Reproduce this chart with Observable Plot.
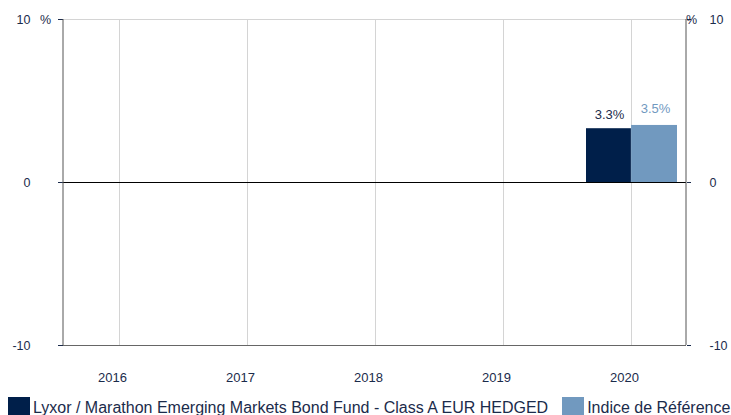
<!DOCTYPE html>
<html><head><meta charset="utf-8">
<script src="https://cdn.jsdelivr.net/npm/d3@7"></script>
<script src="https://cdn.jsdelivr.net/npm/@observablehq/plot@0.6"></script>
<style>
body{margin:0;background:#fff;font-family:"Liberation Sans",Arial,sans-serif;}
#legend{display:flex;align-items:flex-start;height:23px;overflow:hidden;margin-top:5px;color:#1b2b4b;font-size:16px;white-space:nowrap;width:731px;}
.item{display:flex;align-items:flex-start;flex-shrink:0;}
.sw{width:22px;height:20px;margin-right:3px;}
</style></head><body>
<div id="chart"></div>
<div id="legend"></div>
<script>
const years = ["2016","2017","2018","2019","2020"];
const fundValues = [null,null,null,null,3.3];
const indexValues = [null,null,null,null,3.5];
const seriesNames = ["Lyxor / Marathon Emerging Markets Bond Fund - Class A EUR HEDGED","Indice de Référence"];
const colors = ["#001f4a","#7199bf"];
const yTicks = [-10,0,10];

const fund = years.map((y,i)=>({year:y,value:fundValues[i]})).filter(d=>d.value!=null);
const idx = years.map((y,i)=>({year:y,value:indexValues[i]})).filter(d=>d.value!=null);
const txt = "#1b2b4b";

const plot = Plot.plot({
  width:731, height:392,
  marginLeft:63, marginRight:45, marginTop:19, marginBottom:47,
  style:{fontFamily:"Liberation Sans, Arial, sans-serif", color:txt, background:"#fff"},
  x:{type:"band", domain:years, range:[54,695], padding:0, label:null},
  y:{domain:[-10,10], label:null},
  marks:[
    Plot.ruleX(years,{x:d=>d, stroke:"#d4d4d4", strokeWidth:1}),
    Plot.ruleY([10],{stroke:"#d4d4d4"}),
    Plot.barY(fund,{x:"year", y:"value", fill:colors[0], insetLeft:19, insetRight:64.1}),
    Plot.barY(idx,{x:"year", y:"value", fill:colors[1], insetLeft:64.1, insetRight:18}),
    Plot.text(fund,{x:"year", y:"value", text:d=>d.value.toFixed(1)+"%", dx:-22, dy:-14, fill:txt, fontSize:13}),
    Plot.text(idx,{x:"year", y:"value", text:d=>d.value.toFixed(1)+"%", dx:24, dy:-17, fill:colors[1], fontSize:13}),
    Plot.ruleY([0],{stroke:"#000", strokeWidth:1}),
    Plot.ruleY([-10],{stroke:"#666", strokeWidth:1}),
    Plot.axisY({ticks:yTicks, anchor:"left", tickSize:5, tickPadding:28, fontSize:12.5, stroke:txt, tickFormat:d=>d, label:null}),
    Plot.axisY({ticks:yTicks, anchor:"right", tickSize:4, tickPadding:19, fontSize:12.5, stroke:txt, tickFormat:d=>d, label:null}),
    Plot.text(["%"],{y:()=>10, frameAnchor:"left", textAnchor:"middle", dx:-18, fill:txt, fontSize:12.5}),
    Plot.text(["%"],{y:()=>10, frameAnchor:"right", textAnchor:"middle", dx:5, fill:txt, fontSize:12.5}),
    Plot.axisX({anchor:"bottom", tickSize:0, tickPadding:27, dx:-7, fontSize:13, label:null})
  ]
});
document.getElementById("chart").appendChild(plot);
// left and right axis lines
const svg = d3.select(plot);
[63,686].forEach(x=>svg.append("line").attr("x1",x).attr("x2",x).attr("y1",19).attr("y2",345).attr("stroke","#555"));

const leg = document.getElementById("legend");
seriesNames.forEach((n,i)=>{
  const it = document.createElement("div"); it.className="item";
  it.style.marginLeft = i===0 ? "8px" : "14px";
  it.innerHTML = `<div class="sw" style="background:${colors[i]}"></div><span style="line-height:22px">${n}</span>`;
  leg.appendChild(it);
});
</script></body></html>
